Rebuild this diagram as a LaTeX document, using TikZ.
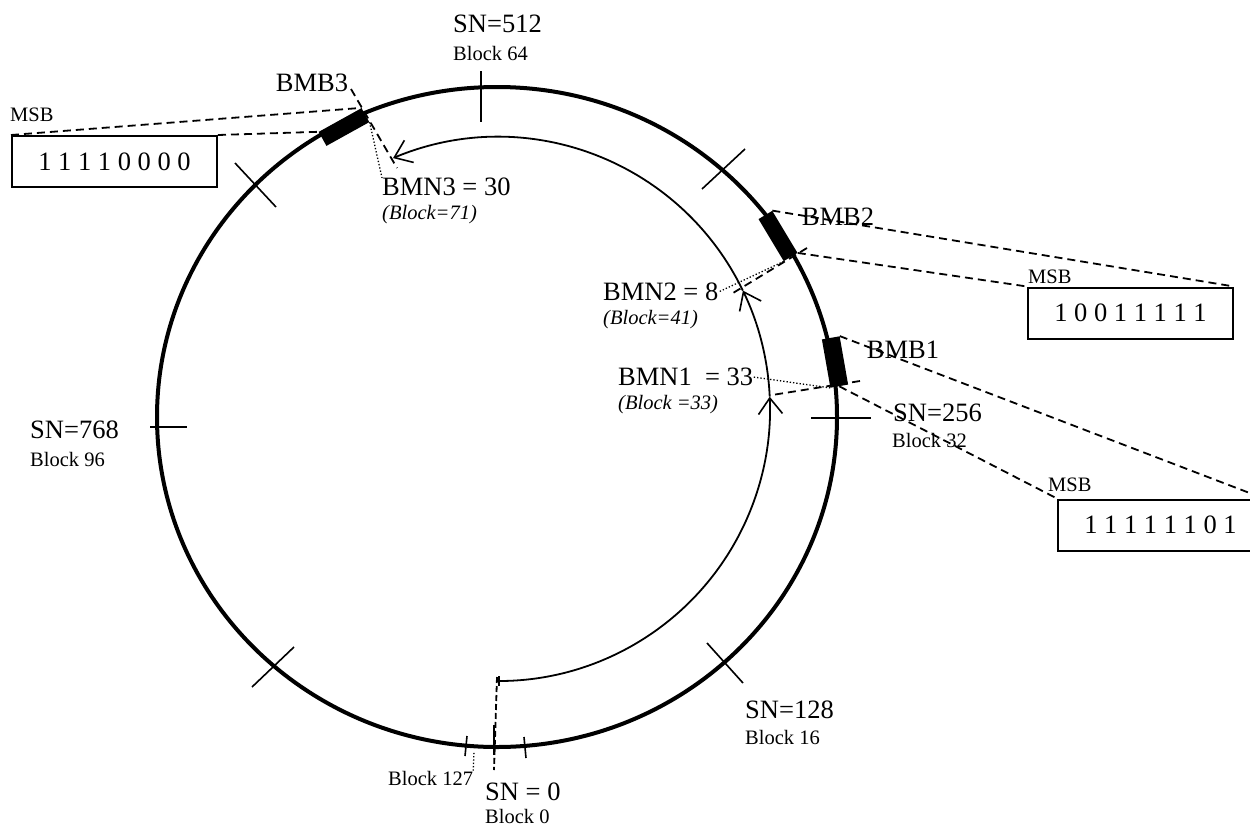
\documentclass[tikz,border=0pt]{standalone}
\usepackage{fontspec}
\setmainfont{Liberation Serif}
\usetikzlibrary{arrows.meta, positioning}

\begin{document}
\begin{tikzpicture}[
    x=1pt, y=-1pt,
    big/.style={font=\fontsize{26.5}{30}\selectfont, inner sep=0pt, anchor=west},
    small/.style={font=\fontsize{20.5}{24}\selectfont, inner sep=0pt, anchor=west},
    note/.style={font=\fontsize{20.5}{24}\selectfont\itshape, inner sep=0pt, anchor=west},
    bit box/.style={draw, line width=2pt, minimum width=205pt, minimum height=51pt, inner sep=0pt, font=\fontsize{26.5}{30}\selectfont},
    block mark/.style={fill=black, minimum width=49pt, minimum height=16pt, inner sep=0pt},
    tick line/.style={line width=1.6pt},
    link/.style={line width=1.8pt, dash pattern=on 8pt off 5pt},
    pointer/.style={line width=1.3pt, dash pattern=on 1.3pt off 2pt},
    path line/.style={line width=1.8pt},
    arc head/.style={-{Straight Barb[length=16pt, width=24pt, line width=1.6pt]}}
]
    \useasboundingbox (0,0) rectangle (1250,828);

    % ring of sequence numbers
    \draw[line width=4pt] (497,417) ellipse [x radius=340, y radius=330];
    \draw[tick line] (481,71) -- (481,122);
    \draw[tick line] (811,418) -- (871,418);
    \draw[tick line] (150,427) -- (187,427);
    \draw[tick line] (494,725) -- (494,755);
    \draw[tick line] (235,163) -- (276,207);
    \draw[tick line] (702,189) -- (745,149);
    \draw[tick line] (252,687) -- (294,647);
    \draw[tick line] (707,643) -- (743,683);
    \draw[tick line] (467,736) -- (465,756);
    \draw[tick line] (524,737) -- (526,758);

    % ring labels
    \node[big] (sn512) at (453,24) {SN=512};
    \node[small] (b64) at (453,53) {Block 64};
    \node[big] (sn256) at (893,413) {SN=256};
    \node[small] (b32) at (892,440) {Block 32};
    \node[big] (sn128) at (745,710) {SN=128};
    \node[small] (b16) at (745,737) {Block 16};
    \node[big] (sn768) at (30,430) {SN=768};
    \node[small] (b96) at (30,459) {Block 96};
    \node[big] (sn0) at (485,792) {SN = 0};
    \node[small] (b0) at (485,816) {Block 0};
    \node[small] (b127) at (388,778) {Block 127};

    % marked blocks on the ring
    \node[block mark, rotate=29] (blk3) at (344,127) {};
    \node[block mark, rotate=-59] (blk2) at (778,236) {};
    \node[block mark, rotate=-80, minimum height=18pt] (blk1) at (835,362) {};
    \node[big, anchor=center] (bmb3) at (312,83) {BMB3};
    \node[big, anchor=center] (bmb2) at (838,217) {BMB2};
    \node[big, anchor=center] (bmb1) at (903,350) {BMB1};

    % bitmaps
    \node[bit box] (box3) at (114.5,161.5) {1 1 1 1 0 0 0 0};
    \node[bit box] (box2) at (1130.5,313) {1 0 0 1 1 1 1 1};
    \node[bit box] (box1) at (1160.5,525) {1 1 1 1 1 1 0 1};
    \node[small] (msb3) at (10,115) {MSB};
    \node[small] (msb2) at (1028,277) {MSB};
    \node[small] (msb1) at (1048,485) {MSB};

    \draw[link] (box3.north west) -- (blk3.north east);
    \draw[link] (box3.north east) -- (blk3.north west);
    \draw[link] (blk2.north west) -- (box2.north east);
    \draw[link] (blk2.north east) -- (box2.north west);
    \draw[link] (blk1.north west) -- (box1.north east);
    \draw[link] (blk1.east) -- (box1.north west);

    % walk of the scan
    \coordinate (walk0) at (498,681);
    \draw[path line, {Bar[width=10pt, line width=1.6pt]}-{Straight Barb[length=16pt, width=24pt, line width=1.6pt]}]
        (walk0) arc[start angle=90, end angle=-2.6, radius=272] coordinate (walk1);
    \draw[path line, arc head] (walk1) arc[start angle=-2.6, end angle=-25.8, radius=272] coordinate (walk2);
    \draw[path line, arc head] (walk2) arc[start angle=-25.8, end angle=-112.7, radius=272];

    \node[big] (bmn3) at (382,187) {BMN3 = 30};
    \node[note] (bk71) at (382,215) {(Block=71)};
    \node[big] (bmn2) at (603,292) {BMN2 = 8};
    \node[note] (bk41) at (603,320) {(Block=41)};
    \node[big] (bmn1) at (618,377) {BMN1~ = 33};
    \node[note] (bk33) at (618,405) {(Block =33)};

    \coordinate (cut3a) at (351,89);
    \coordinate (cut3b) at (397,168);
    \coordinate (cut2a) at (807,248);
    \coordinate (cut2b) at (733,293);
    \coordinate (cut1a) at (860,381);
    \coordinate (cut1b) at (772,395);
    \coordinate (cut0a) at (497,677);
    \coordinate (cut0b) at (494,770);
    \draw[link] (cut3a) -- (cut3b);
    \draw[link] (cut2a) -- (cut2b);
    \draw[link] (cut1a) -- (cut1b);
    \draw[link, dash pattern=on 6pt off 3pt] (cut0a) -- (cut0b);

    \draw[pointer] (blk3.south east) -- (bmn3.north west);
    \draw[pointer] (blk2.south east) -- (bmn2.east);
    \draw[pointer] (blk1.south east) -- (bmn1.east);
    \coordinate (foot127) at (474,751);
    \draw[pointer] (b127.north east) -- (foot127);
\end{tikzpicture}
\end{document}
